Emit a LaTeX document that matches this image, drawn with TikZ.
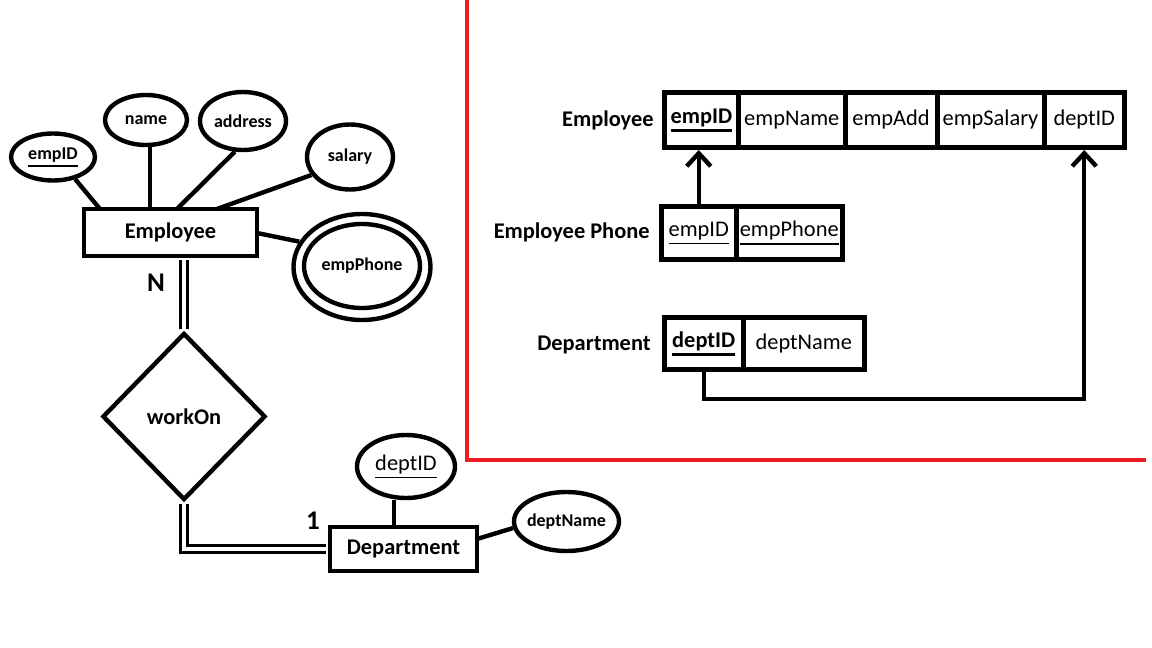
\documentclass[tikz,border=0pt]{standalone}
\usepackage{fontspec}
\setmainfont{Carlito}
\usetikzlibrary{shapes.geometric,arrows.meta}
\definecolor{paintred}{RGB}{237,28,36}
\newcommand\myul[2][1pt]{\leavevmode\vtop{\hbox{#2}\kern1.3pt\hrule height #1}}
\begin{document}
\begin{tikzpicture}[x=0.5pt,y=-0.5pt,
  big/.style={font=\fontsize{11.2}{13.4}\selectfont},
  bigb/.style={font=\bfseries\fontsize{11.2}{13.4}\selectfont},
  smallb/.style={font=\bfseries\fontsize{9}{11}\selectfont},
  ent/.style={draw,rectangle,line width=2.2pt,inner sep=0pt,bigb},
  attr/.style={draw,ellipse,line width=2.2pt,inner sep=0pt,smallb},
  rel/.style={draw,diamond,line width=2.2pt,inner sep=0pt,bigb},
  card/.style={inner sep=0pt,font=\bfseries\fontsize{13.5}{16}\selectfont},
  conn/.style={line width=2.2pt},
  dbl/.style={double,line width=1.8pt,double distance=1.8pt,shorten <=1pt,shorten >=1pt},
  cell/.style={draw,rectangle,line width=2.5pt,inner sep=0pt,big},
  lbl/.style={anchor=east,inner sep=0pt,bigb},
  fk/.style={line width=2.2pt,-{Straight Barb[length=6.5pt,width=12pt]}},
  redline/.style={draw=paintred,line width=2pt}]

\useasboundingbox (0,0) rectangle (1152,648);
\fill[white] (0,0) rectangle (1152,648);

% ---------- ER diagram ----------
\node[ent,minimum width=86.5pt,minimum height=23.5pt] (emp) at (170.5,232.5) {Employee};
\node[attr,minimum width=42pt,minimum height=23.5pt] (empid) at (53,157) {\myul[1pt]{empID}};
\node[attr,minimum width=41pt,minimum height=25pt] (name) at (146,120) {name};
\node[attr,minimum width=43pt,minimum height=29pt] (address) at (243,121) {address};
\node[attr,minimum width=43pt,minimum height=32.5pt] (salary) at (350,157) {salary};
\node[draw,ellipse,line width=2.2pt,minimum width=68.5pt,minimum height=53pt] (phone) at (362,267) {};
\node[attr,minimum width=58pt,minimum height=42pt,inner xsep=-1pt] (phonein) at (362,266) {empPhone};

\node[rel,minimum width=81.5pt,minimum height=83.5pt] (wo) at (184,416.5) {workOn};
\node[ent,minimum width=73.5pt,minimum height=22pt] (dept) at (403.5,549) {Department};
\node[attr,big,minimum width=49pt,minimum height=31.5pt] (deptid) at (406,466.5) {\myul[0.7pt]{deptID}};
\node[attr,minimum width=52.5pt,minimum height=29.5pt,inner xsep=-1.5pt] (deptname) at (566.5,521.5) {deptName};
\node[card] (nlab) at (156,283) {N};
\node[card] (one) at (313,521) {1};

\coordinate (a1) at (100,209);
\coordinate (a2) at (150,209);
\coordinate (a3) at (177,209);
\coordinate (a4) at (217,209);
\coordinate (a5) at (257,233);
\coordinate (b1) at (394,527);
\coordinate (b2) at (477,539);

\draw[conn] (empid.315) -- (a1);
\draw[conn] (name.south -| a2) -- (a2);
\draw[conn] (address.255) -- (a3);
\draw[conn] (salary.205) -- (a4);
\draw[conn] (a5) -- (phone.158);
\draw[conn] (deptid.south -| b1) -- (b1);
\draw[conn] (b2) -- (deptname.187);
\draw[dbl] (wo.north |- emp.south) -- (wo.north);
\draw[dbl] (wo.south) |- (dept.west);

% ---------- relational schema ----------
\node[lbl] (lemp) at (654,120) {Employee};
\node[lbl] (lphone) at (650,232) {Employee Phone};
\node[lbl] (ldept) at (651,345) {Department};

\node[cell,bigb,minimum width=37pt,minimum height=27.5pt] (e1) at (701.5,120) {\myul[1.2pt]{empID}};
\node[cell,minimum width=53.25pt,minimum height=27.5pt] (e2) at (791.75,120) {empName};
\node[cell,minimum width=46pt,minimum height=27.5pt] (e3) at (891,120) {empAdd};
\node[cell,minimum width=53.5pt,minimum height=27.5pt] (e4) at (990.5,120) {empSalary};
\node[cell,minimum width=40.25pt,minimum height=27.5pt] (e5) at (1084.25,120) {deptID};

\node[cell,minimum width=37.25pt,minimum height=26.5pt] (p1) at (698.75,233) {\myul[0.7pt]{empID}};
\node[cell,minimum width=53.25pt,minimum height=26.5pt] (p2) at (789.25,233) {\myul[0.7pt]{empPhone}};

\node[cell,bigb,minimum width=39.25pt,minimum height=26pt] (d1) at (703.75,343.5) {\myul[1.2pt]{deptID}};
\node[cell,minimum width=60.75pt,minimum height=26pt] (d2) at (803.75,343.5) {deptName};

\coordinate (fkc) at (900,399);
\draw[fk] (p1.north) -- (p1.north |- e1.south);
\draw[fk] (d1.south) |- (fkc) -| (e5.south);

% ---------- red separator ----------
\coordinate (r0) at (467,0);
\coordinate (r1) at (467,460);
\coordinate (r2) at (1146,460);
\draw[redline] (r0) -- (r1) -- (r2);
\end{tikzpicture}
\end{document}
